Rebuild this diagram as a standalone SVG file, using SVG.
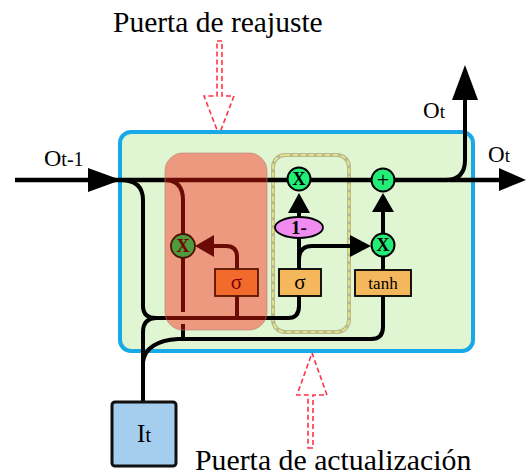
<svg xmlns="http://www.w3.org/2000/svg" width="526" height="475" viewBox="0 0 526 475">
<style>
text{font-family:"Liberation Serif","Times New Roman",serif;fill:#000}
.ln{fill:none;stroke:#000;stroke-width:4;stroke-linecap:butt;stroke-linejoin:round}
.ah{fill:#000;stroke:none}
.mul{fill:#22ee77;stroke:#000;stroke-width:2}
.box{fill:#f5b75c;stroke:#000;stroke-width:1.8}
.lbl{font-size:18px;font-weight:bold;text-anchor:middle}
.dash{fill:none;stroke:#ff3344;stroke-width:1.6;stroke-dasharray:5 3}
</style>
<rect width="526" height="475" fill="#ffffff"/>
<g id="titles">
<text x="113" y="32" style="font-size:29.5px">Puerta de reajuste</text>
<text x="195" y="470" style="font-size:29.8px">Puerta de actualización</text>
</g>
<g id="pointers">
<path class="dash" d="M217,41 L222,41 L222,96 L234,96 L219,135 L204,96 L217,96 Z"/>
<path class="dash" d="M308,448 L313,448 L313,395 L327,395 L312,353 L297,395 L308,395 Z"/>
</g>
<g id="cell">
<rect x="120" y="132" width="353" height="219" rx="11" fill="#e0f5d2" stroke="#19a9e8" stroke-width="4"/>
</g>
<g id="update-region">
<rect x="273" y="155" width="76" height="177" rx="12" fill="none" stroke="#b9b98e" stroke-width="4"/>
<rect x="273" y="155" width="76" height="177" rx="12" fill="none" stroke="#eeee88" stroke-width="1.5" stroke-dasharray="5 3"/>
</g>
<g id="connectors">
<path class="ln" style="stroke-width:4.5" d="M15,180 L502,180"/>
<polygon class="ah" points="88,168 121,180 88,192"/>
<polygon class="ah" points="499,168 526,180 499,191"/>
<path class="ln" d="M445,180 Q465,180 465,160 L465,98"/>
<polygon class="ah" points="452,100 465,65 478,100"/>
<path class="ln" d="M120,180 Q143,180 143,200 L143,306 Q143,318 156,318 L288,318 Q299,318 299,306 L299,296"/>
<path class="ln" d="M143,402 L143,332 Q143,318 157,318"/>
<path class="ln" d="M143,362 Q146,341 178,339 L371,339 Q383,339 383,327 L383,296"/>
<path class="ln" d="M166,180 Q183,181 183,200 L183,312 M183,324 L183,339"/>
<path class="ln" d="M237,296 L237,318"/>
<path class="ln" d="M237,269 L237,257 Q237,246 226,246 L212,246"/>
<polygon class="ah" points="214,235 195,246 214,257"/>
<path class="ln" d="M299,269 L299,238"/>
<path class="ln" d="M299,260 Q299,246 312,246 L352,246"/>
<polygon class="ah" points="350,235 371,246 350,257"/>
<path class="ln" d="M299,217 L299,210"/>
<polygon class="ah" points="288,213 299,193 310,213"/>
<path class="ln" d="M383,270 L383,257"/>
<path class="ln" d="M383,233 L383,210"/>
<polygon class="ah" points="372,212 383,193 394,212"/>
</g>
<g id="reset-region">
<rect x="165" y="153" width="102" height="177" rx="18" fill="#ff1a0c" fill-opacity="0.42" stroke="#b08070" stroke-opacity="0.6" stroke-width="1"/>
</g>
<g id="reset-mul">
<circle cx="183" cy="246" r="12" fill="#4f9b3e" stroke="#4a1000" stroke-width="1.8"/>
<text class="lbl" x="183" y="252" style="fill:#7a0000">X</text>
</g>
<g id="reset-sigma">
<rect x="215" y="269" width="43" height="27" fill="#f26a2c" stroke="#5a1500" stroke-width="1.8"/>
<text x="236.5" y="289" style="font-size:21px;text-anchor:middle;fill:#7a0000">σ</text>
</g>
<g id="update-mul">
<circle class="mul" cx="299" cy="179" r="11.5"/>
<text class="lbl" x="299" y="185">X</text>
</g>
<g id="one-minus">
<ellipse cx="299" cy="227.5" rx="24" ry="10.5" fill="#f08cf0" stroke="#000" stroke-width="1.8"/>
<text x="299" y="234" style="font-size:19px;font-weight:bold;text-anchor:middle">1-</text>
</g>
<g id="update-sigma">
<rect class="box" x="279" y="269" width="42" height="27"/>
<text x="300" y="289" style="font-size:21px;text-anchor:middle">σ</text>
</g>
<g id="plus">
<circle class="mul" cx="383" cy="180" r="11.5"/>
<text x="383" y="187" style="font-size:22px;text-anchor:middle">+</text>
</g>
<g id="cand-mul">
<circle class="mul" cx="383" cy="245" r="11.5"/>
<text class="lbl" x="383" y="251">X</text>
</g>
<g id="tanh">
<rect class="box" x="355" y="270" width="56" height="26"/>
<text x="383" y="289" style="font-size:17px;text-anchor:middle">tanh</text>
</g>
<g id="input">
<rect x="112" y="402" width="64" height="64" rx="3" fill="#a5cdee" stroke="#111" stroke-width="3"/>
<text x="144" y="442" style="text-anchor:middle"><tspan style="font-size:25px">I</tspan><tspan style="font-size:20px">t</tspan></text>
</g>
<g id="labels">
<text x="44" y="166"><tspan style="font-size:24px">O</tspan><tspan style="font-size:20px">t-1</tspan></text>
<text x="423" y="118"><tspan style="font-size:23px">O</tspan><tspan style="font-size:19px">t</tspan></text>
<text x="488" y="162"><tspan style="font-size:23px">O</tspan><tspan style="font-size:19px">t</tspan></text>
</g>
</svg>
